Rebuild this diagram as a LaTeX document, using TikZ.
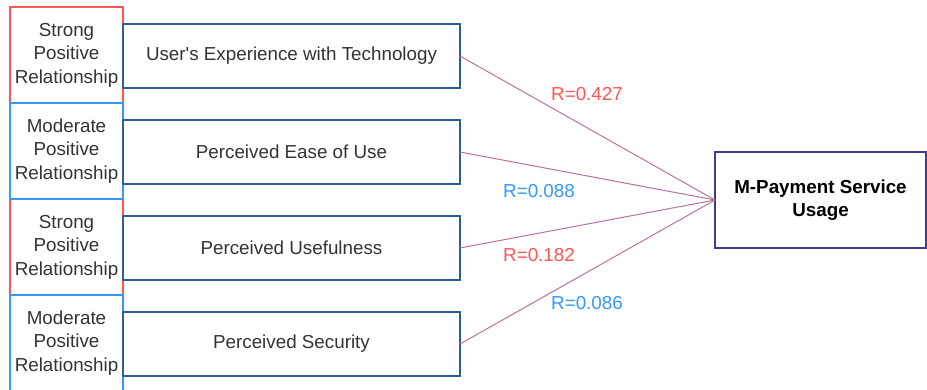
\documentclass[tikz,border=0pt]{standalone}
\usepackage{fontspec}
\setmainfont{Liberation Sans}
\definecolor{txt}{HTML}{333333}
\definecolor{lred}{HTML}{FF5555}
\definecolor{lblue}{HTML}{3399FF}
\definecolor{boxblue}{HTML}{2E5C9A}
\definecolor{navy}{HTML}{3E3E8A}
\definecolor{link}{HTML}{B5739D}
\begin{document}
\begin{tikzpicture}[x=1pt,y=-1pt,
  every node/.style={font=\fontsize{18.8}{23.5}\selectfont, text=txt, align=center, inner sep=0pt, outer sep=0pt},
  relbox/.style={draw, line width=1.3pt, minimum width=113pt, minimum height=96pt},
  factor/.style={draw=boxblue, line width=1.5pt, minimum width=337pt, minimum height=64pt},
  outcome/.style={draw=navy, line width=1.5pt, minimum width=211pt, minimum height=96pt, font=\fontsize{18.8}{23.5}\selectfont\bfseries, text=black},
  conn/.style={draw=link, line width=1pt},
  rval/.style={font=\fontsize{18.8}{23.5}\selectfont}
]
\useasboundingbox (0,0) rectangle (927,389);
% correlation label boxes
\node[relbox, draw=lred] (l1) at (66.5,55) {Strong\\Positive\\Relationship};
\node[relbox, draw=lred] (l3) at (66.5,247) {Strong\\Positive\\Relationship};
\node[relbox, draw=lblue] (l2) at (66.5,151) {Moderate\\Positive\\Relationship};
\node[relbox, draw=lblue] (l4) at (66.5,343) {Moderate\\Positive\\Relationship};
% factor boxes
\node[factor] (b1) at (291.5,56) {User\textquotesingle s Experience with Technology};
\node[factor] (b2) at (291.5,152) {Perceived Ease of Use};
\node[factor] (b3) at (291.5,248) {Perceived Usefulness};
\node[factor] (b4) at (291.5,344) {Perceived Security};
% outcome
\node[outcome] (m) at (820.5,200) {M-Payment Service\\Usage};
% connectors
\draw[conn] (b1.east) -- (m.west);
\draw[conn] (b2.east) -- (m.west);
\draw[conn] (b3.east) -- (m.west);
\draw[conn] (b4.east) -- (m.west);
% values
\node[rval, text=lred] (r1) at (587,94) {R=0.427};
\node[rval, text=lblue] (r2) at (539,191) {R=0.088};
\node[rval, text=lred] (r3) at (539,255) {R=0.182};
\node[rval, text=lblue] (r4) at (587,303) {R=0.086};
\end{tikzpicture}
\end{document}
